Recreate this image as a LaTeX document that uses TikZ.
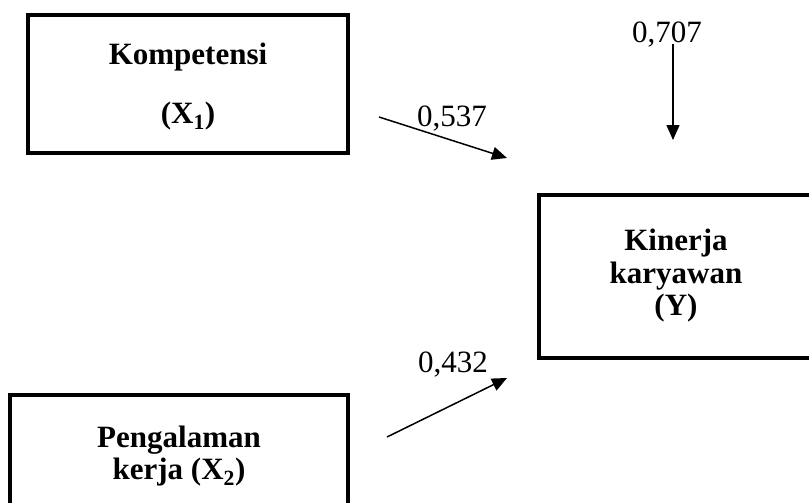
\documentclass[tikz,border=0pt]{standalone}
\usepackage{fontspec}
\setmainfont{Liberation Serif}
\usetikzlibrary{arrows.meta,positioning}

\tikzstyle{varbox} = [rectangle, draw=black, line width=4pt, align=center, inner sep=0pt,
    font=\bfseries\fontsize{31}{32.5}\selectfont]
\tikzstyle{coef} = [inner sep=0pt, anchor=base, font=\fontsize{31}{33}\selectfont]

\begin{document}
\begin{tikzpicture}[
    x=1pt, y=-1pt,
    >={Triangle[length=15pt,width=13pt]},
    arrow/.style={->, line width=1.5pt}
]
\clip (0,0) rectangle (809,503);

% Variables
\node[varbox, minimum width=320pt, minimum height=138pt] (komp) at (188,84)
    {\rule{0pt}{27pt}Kompetensi\\[27pt](X\textsubscript{1})};
\node[varbox, minimum width=274pt, minimum height=163pt] (kinerja) at (676,276)
    {Kinerja\\karyawan\\(Y)};
\node[varbox, minimum width=338pt, minimum height=122pt] (pengalaman) at (179,456)
    {Pengalaman\\kerja (X\textsubscript{2})};

% Arrow ends
\coordinate (k1) at (379,117);
\coordinate (k2) at (507,158);
\coordinate (e1) at (673,44);
\coordinate (e2) at (673,140);
\coordinate (p1) at (387,437);
\coordinate (p2) at (507,378);

% Arrows
\draw[arrow] (k1) -- (k2);
\draw[arrow] (e1) -- (e2);
\draw[arrow] (p1) -- (p2);

% Coefficients
\node[coef] (c537) at (452,126) {0,537};
\node[coef] (c707) at (667,43) {0,707};
\node[coef] (c432) at (453,372) {0,432};

\end{tikzpicture}
\end{document}
